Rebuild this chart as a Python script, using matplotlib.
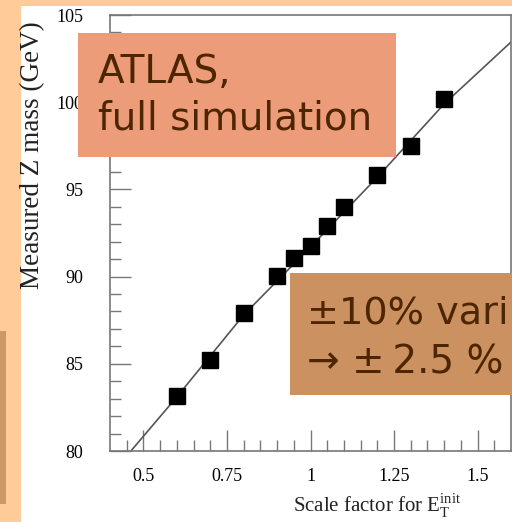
import matplotlib
matplotlib.use('Agg')
import matplotlib.pyplot as plt
from matplotlib.patches import Rectangle

# data
scale = [0.6, 0.7, 0.8, 0.9, 0.95, 1.0, 1.05, 1.1, 1.2, 1.3, 1.4]
mass = [83.15, 85.2, 87.9, 90.05, 91.05, 91.75, 92.9, 94.0, 95.8, 97.5, 100.2]
# fitted line (read at a few x values)
fit_x = [0.4625, 0.6, 0.8, 1.0, 1.2, 1.4, 1.6]
fit_y = [80.0, 83.1, 87.8, 91.7, 95.7, 99.9, 103.45]

xticks = [0.5, 0.75, 1, 1.25, 1.5]
xticklabels = ['0.5', '0.75', '1', '1.25', '1.5']
yticks = [80, 85, 90, 95, 100, 105]

W, H = 512, 522
def fx(px):
    return px / W
def fy(py):
    return 1 - py / H

plt.rcParams['mathtext.fontset'] = 'custom'
plt.rcParams['mathtext.rm'] = 'Liberation Serif'

fig = plt.figure(figsize=(W / 100, H / 100), dpi=100, facecolor='#FFCC99')

# white slide panel and the tan tab on the left
fig.add_artist(Rectangle((fx(21), 0), 1, fy(6), facecolor='white',
                         edgecolor='none', transform=fig.transFigure, zorder=-10))
fig.add_artist(Rectangle((0, fy(504)), fx(6), (504 - 331) / H, facecolor='#CC9966',
                         edgecolor='none', transform=fig.transFigure, zorder=-10))

ax = fig.add_axes([fx(110), fy(451), (511 - 110) / W, (451 - 15) / H])
ax.plot(fit_x, fit_y, color='#555555', lw=1.2, zorder=2)
ax.plot(scale, mass, 's', color='black', ms=12, zorder=3)

ax.set_xlim(0.4, 1.6)
ax.set_ylim(80, 105)
ax.set_xticks(xticks)
ax.set_xticklabels(xticklabels)
ax.set_yticks(yticks)
ax.set_xticks([0.45 + 0.05 * i for i in range(23)], minor=True)
ax.set_yticks(list(range(80, 106)), minor=True)
for lab in ax.get_xticklabels() + ax.get_yticklabels():
    lab.set_family('Liberation Serif')
ax.tick_params(which='both', direction='in', color='#777777', top=False, right=False)
ax.tick_params(which='major', length=15, width=1, labelsize=13)
ax.tick_params(axis='y', which='major', pad=19)
ax.tick_params(axis='x', which='major', pad=12)
ax.tick_params(which='minor', length=8, width=1)
for s in ax.spines.values():
    s.set_color('#777777')
    s.set_linewidth(1.2)

fig.text(fx(33), fy(155), 'Measured Z mass (GeV)', rotation=90, ha='center', va='center',
         family='Liberation Serif', fontsize=19.5, color='#222222')
fig.text(fx(293), fy(512), r'Scale factor for E$_\mathrm{T}^\mathrm{init}$', ha='left',
         va='baseline', family='Liberation Serif', fontsize=15, color='#222222')

# overlay boxes
txt_col = '#4D2600'
fig.add_artist(Rectangle((fx(78), fy(157)), (396 - 78) / W, (157 - 33) / H, facecolor='#EC9C78',
                         edgecolor='none', transform=fig.transFigure, zorder=5))
fig.text(fx(98), fy(83), 'ATLAS,', fontsize=28, color=txt_col, va='baseline', zorder=6)
fig.text(fx(98), fy(130), 'full simulation', fontsize=28, color=txt_col, va='baseline', zorder=6)

fig.add_artist(Rectangle((fx(290), fy(395)), 0.6, (395 - 273) / H, facecolor='#CC9160',
                         edgecolor='none', transform=fig.transFigure, zorder=5))
fig.text(fx(307), fy(323), '±10% vari', fontsize=27.5, color=txt_col, va='baseline', zorder=6)
fig.text(fx(307), fy(373), '→ ±\u20092.5 %', fontsize=28, color=txt_col, va='baseline', zorder=6)

fig.savefig('out.png', dpi=100, facecolor=fig.get_facecolor())
